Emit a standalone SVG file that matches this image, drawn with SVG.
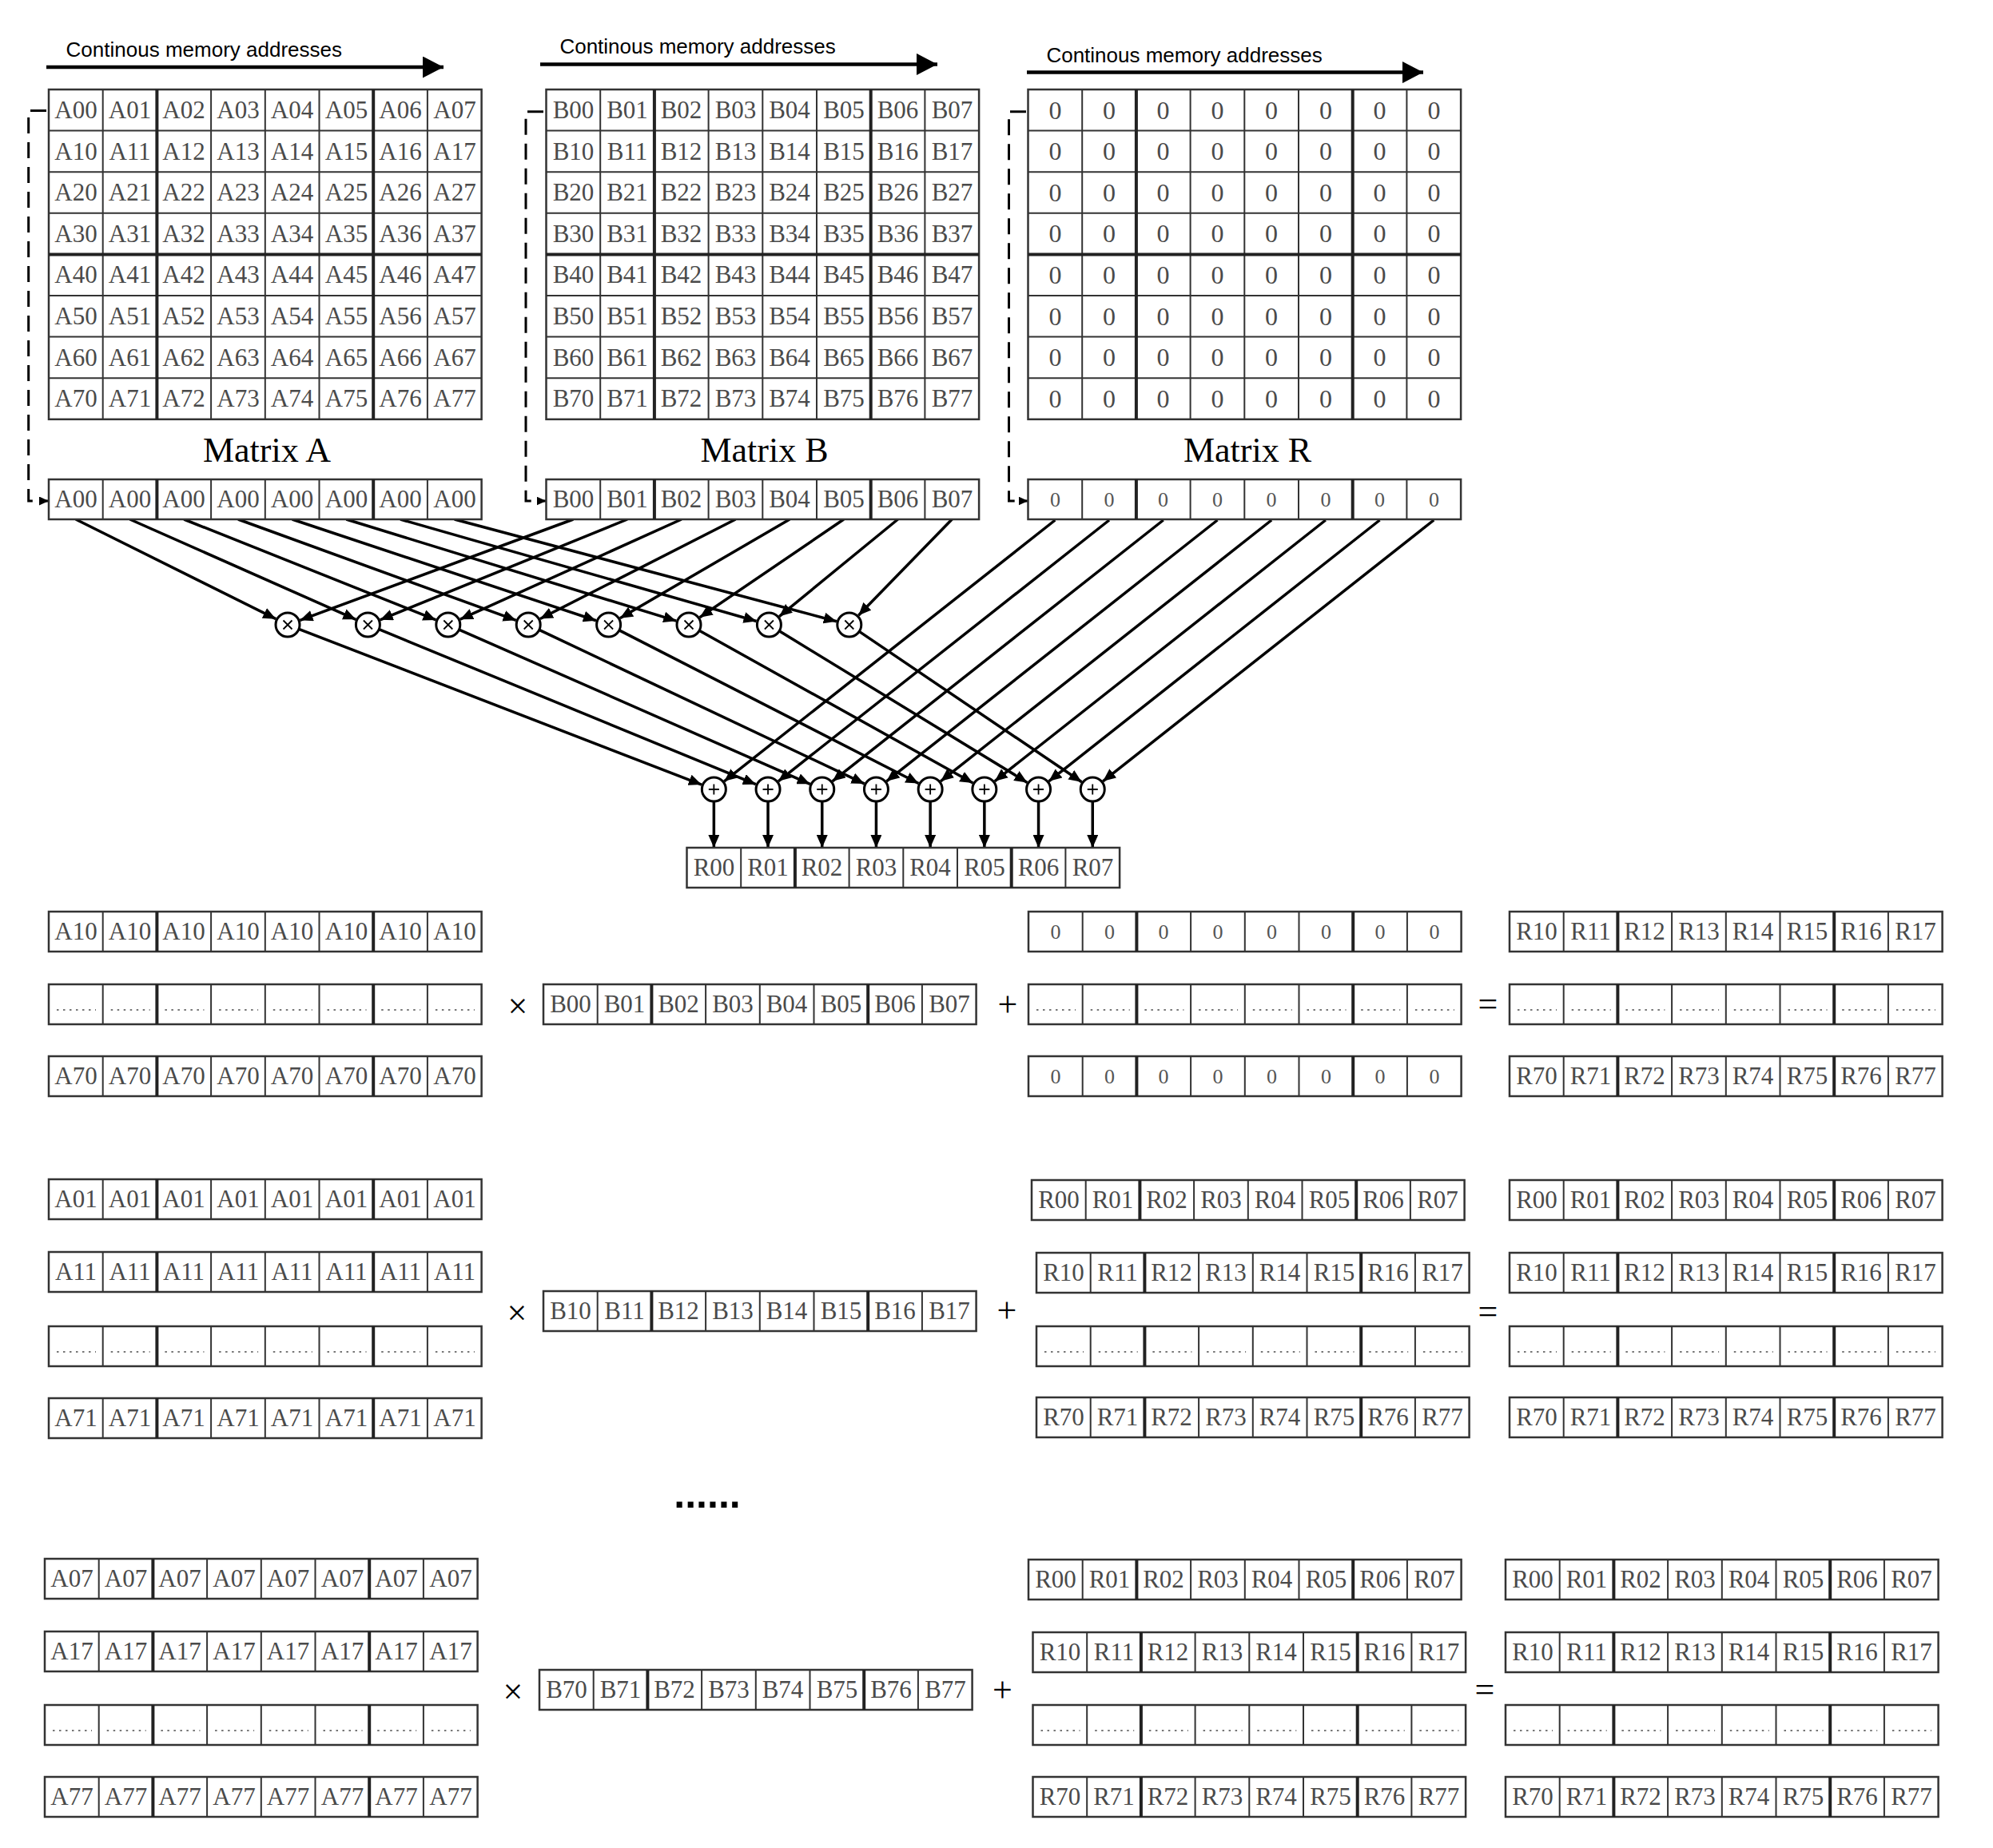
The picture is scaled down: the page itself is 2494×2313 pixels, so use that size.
<svg xmlns="http://www.w3.org/2000/svg" xmlns:xlink="http://www.w3.org/1999/xlink" width="2494" height="2313" viewBox="0 0 2494 2313">
<style>
.c{font-family:"Liberation Serif","Times New Roman",serif;font-size:31px;fill:#4a4a4a;text-anchor:middle}
.z{font-family:"Liberation Serif","Times New Roman",serif;font-size:32px;fill:#4a4a4a;text-anchor:middle}
.zs{font-family:"Liberation Serif","Times New Roman",serif;font-size:26px;fill:#555;text-anchor:middle}
.t{font-family:"Liberation Sans",Arial,sans-serif;font-size:26px;fill:#000}
.m{font-family:"Liberation Serif","Times New Roman",serif;font-size:44px;fill:#000;text-anchor:middle}
.op{font-family:"Liberation Serif","Times New Roman",serif;font-size:44px;fill:#000;text-anchor:middle}
.dd{font-family:"Liberation Sans",Arial,sans-serif;font-size:50px;font-weight:bold;fill:#000;text-anchor:middle}
.cn{fill:none;stroke:#000;stroke-width:3.5;marker-end:url(#ah)}
.ma{fill:none;stroke:#000;stroke-width:4.5;marker-end:url(#big)}
.dash{fill:none;stroke:#000;stroke-width:3;stroke-dasharray:20 11;marker-end:url(#sm)}
.op-c{fill:#fff;stroke:#000;stroke-width:3}
.sym{stroke:#000;stroke-width:1.8}
</style>
<defs>
<marker id="ah" viewBox="0 0 16 14" refX="16" refY="7" markerWidth="16" markerHeight="14" markerUnits="userSpaceOnUse" orient="auto"><path d="M0,0L16,7L0,14z" fill="#000"/></marker>
<marker id="big" viewBox="0 0 26 27" refX="26" refY="13.5" markerWidth="26" markerHeight="27" markerUnits="userSpaceOnUse" orient="auto"><path d="M0,0L26,13.5L0,27z" fill="#000"/></marker>
<marker id="sm" viewBox="0 0 12 11" refX="12" refY="5.5" markerWidth="12" markerHeight="11" markerUnits="userSpaceOnUse" orient="auto"><path d="M0,0L12,5.5L0,11z" fill="#000"/></marker>
<g id="row">
<rect width="541.6" height="50" fill="#fff" stroke="#333" stroke-width="2.5"/>
<path d="M67.7,0V50M203.1,0V50M270.8,0V50M338.5,0V50M473.9,0V50" stroke="#333" stroke-width="2"/>
<path d="M135.4,0V50M406.2,0V50" stroke="#222" stroke-width="4"/>
</g>
<g id="drow">
<use href="#row"/>
<path d="M10,32H59M77.7,32H126.7M145.4,32H194.4M213.1,32H262.1M280.8,32H329.8M348.5,32H397.5M416.2,32H465.2M483.9,32H532.9" stroke="#777" stroke-width="2" stroke-dasharray="2.5 5.5"/>
</g>
<g id="mat">
<rect width="541.6" height="412.8" fill="#fff" stroke="#333" stroke-width="2.5"/>
<path d="M67.7,0V412.8M203.1,0V412.8M270.8,0V412.8M338.5,0V412.8M473.9,0V412.8M0,51.6H541.6M0,103.2H541.6M0,154.8H541.6M0,258H541.6M0,309.6H541.6M0,361.2H541.6" stroke="#333" stroke-width="2"/>
<path d="M135.4,0V412.8M406.2,0V412.8M0,206.4H541.6" stroke="#222" stroke-width="4"/>
</g>
</defs>
<rect width="2494" height="2313" fill="#fff"/>

<!-- memory address arrows -->
<g id="memA"><text class="t" x="82.6" y="71.4">Continous memory addresses</text><path class="ma" d="M58,84H555"/></g>
<g id="memB"><text class="t" x="700.4" y="67">Continous memory addresses</text><path class="ma" d="M676,80.4H1173"/></g>
<g id="memR"><text class="t" x="1309.4" y="78">Continous memory addresses</text><path class="ma" d="M1285,90.6H1781"/></g>

<!-- connectors -->
<g id="connectors">
<path class="dash" d="M58,138.4H35.7V627H61"/>
<path class="dash" d="M680,139.7H658V627H683.5"/>
<path class="dash" d="M1284,139.7H1262.5V627H1286.5"/>
<path class="cn" d="M94.85,650L345.23,774.65"/>
<path class="cn" d="M162.55,650L445.32,775.31"/>
<path class="cn" d="M230.25,650L545.48,775.88"/>
<path class="cn" d="M297.95,650L645.69,776.36"/>
<path class="cn" d="M365.65,650L745.95,776.78"/>
<path class="cn" d="M433.35,650L846.23,777.14"/>
<path class="cn" d="M501.05,650L946.54,777.46"/>
<path class="cn" d="M568.75,650L1046.86,777.74"/>
<path class="cn" d="M717.35,650L375.48,776.28"/>
<path class="cn" d="M785.05,650L475.69,775.79"/>
<path class="cn" d="M852.75,650L575.83,775.2"/>
<path class="cn" d="M920.45,650L675.9,774.51"/>
<path class="cn" d="M988.15,650L775.86,773.69"/>
<path class="cn" d="M1055.85,650L875.64,772.71"/>
<path class="cn" d="M1123.55,650L975.16,771.54"/>
<path class="cn" d="M1191.25,650L1074.31,770.17"/>
<path class="cn" d="M374,787.4L877.96,982.06"/>
<path class="cn" d="M474.27,787.71L945.79,981.72"/>
<path class="cn" d="M574.53,788.04L1013.65,981.35"/>
<path class="cn" d="M674.76,788.42L1081.54,980.94"/>
<path class="cn" d="M774.95,788.83L1149.46,980.48"/>
<path class="cn" d="M875.1,789.3L1217.44,979.97"/>
<path class="cn" d="M975.2,789.82L1285.47,979.4"/>
<path class="cn" d="M1075.22,790.41L1353.58,978.75"/>
<path class="cn" d="M1320.35,651L906.3,977.78"/>
<path class="cn" d="M1388.05,651L974,977.78"/>
<path class="cn" d="M1455.75,651L1041.7,977.78"/>
<path class="cn" d="M1523.45,651L1109.4,977.78"/>
<path class="cn" d="M1591.15,651L1177.1,977.78"/>
<path class="cn" d="M1658.85,651L1244.8,977.78"/>
<path class="cn" d="M1726.55,651L1312.5,977.78"/>
<path class="cn" d="M1794.25,651L1380.2,977.78"/>
<path class="cn" d="M893.35,1003V1061"/>
<path class="cn" d="M961.05,1003V1061"/>
<path class="cn" d="M1028.75,1003V1061"/>
<path class="cn" d="M1096.45,1003V1061"/>
<path class="cn" d="M1164.15,1003V1061"/>
<path class="cn" d="M1231.85,1003V1061"/>
<path class="cn" d="M1299.55,1003V1061"/>
<path class="cn" d="M1367.25,1003V1061"/>
</g>

<!-- Matrix A -->
<g id="matrixA" transform="translate(61,112)">
<use href="#mat"/>
<text class="c" y="36"><tspan x="34">A00</tspan><tspan x="101.5">A01</tspan><tspan x="169">A02</tspan><tspan x="237">A03</tspan><tspan x="304.5">A04</tspan><tspan x="372.5">A05</tspan><tspan x="440">A06</tspan><tspan x="508">A07</tspan></text>
<text class="c" y="87.6"><tspan x="34">A10</tspan><tspan x="101.5">A11</tspan><tspan x="169">A12</tspan><tspan x="237">A13</tspan><tspan x="304.5">A14</tspan><tspan x="372.5">A15</tspan><tspan x="440">A16</tspan><tspan x="508">A17</tspan></text>
<text class="c" y="139.2"><tspan x="34">A20</tspan><tspan x="101.5">A21</tspan><tspan x="169">A22</tspan><tspan x="237">A23</tspan><tspan x="304.5">A24</tspan><tspan x="372.5">A25</tspan><tspan x="440">A26</tspan><tspan x="508">A27</tspan></text>
<text class="c" y="190.8"><tspan x="34">A30</tspan><tspan x="101.5">A31</tspan><tspan x="169">A32</tspan><tspan x="237">A33</tspan><tspan x="304.5">A34</tspan><tspan x="372.5">A35</tspan><tspan x="440">A36</tspan><tspan x="508">A37</tspan></text>
<text class="c" y="242.4"><tspan x="34">A40</tspan><tspan x="101.5">A41</tspan><tspan x="169">A42</tspan><tspan x="237">A43</tspan><tspan x="304.5">A44</tspan><tspan x="372.5">A45</tspan><tspan x="440">A46</tspan><tspan x="508">A47</tspan></text>
<text class="c" y="294"><tspan x="34">A50</tspan><tspan x="101.5">A51</tspan><tspan x="169">A52</tspan><tspan x="237">A53</tspan><tspan x="304.5">A54</tspan><tspan x="372.5">A55</tspan><tspan x="440">A56</tspan><tspan x="508">A57</tspan></text>
<text class="c" y="345.6"><tspan x="34">A60</tspan><tspan x="101.5">A61</tspan><tspan x="169">A62</tspan><tspan x="237">A63</tspan><tspan x="304.5">A64</tspan><tspan x="372.5">A65</tspan><tspan x="440">A66</tspan><tspan x="508">A67</tspan></text>
<text class="c" y="397.2"><tspan x="34">A70</tspan><tspan x="101.5">A71</tspan><tspan x="169">A72</tspan><tspan x="237">A73</tspan><tspan x="304.5">A74</tspan><tspan x="372.5">A75</tspan><tspan x="440">A76</tspan><tspan x="508">A77</tspan></text>
</g>
<text id="labelA" class="m" x="334" y="578">Matrix A</text>

<!-- Matrix B -->
<g id="matrixB" transform="translate(683.5,112)">
<use href="#mat"/>
<text class="c" y="36"><tspan x="34">B00</tspan><tspan x="101.5">B01</tspan><tspan x="169">B02</tspan><tspan x="237">B03</tspan><tspan x="304.5">B04</tspan><tspan x="372.5">B05</tspan><tspan x="440">B06</tspan><tspan x="508">B07</tspan></text>
<text class="c" y="87.6"><tspan x="34">B10</tspan><tspan x="101.5">B11</tspan><tspan x="169">B12</tspan><tspan x="237">B13</tspan><tspan x="304.5">B14</tspan><tspan x="372.5">B15</tspan><tspan x="440">B16</tspan><tspan x="508">B17</tspan></text>
<text class="c" y="139.2"><tspan x="34">B20</tspan><tspan x="101.5">B21</tspan><tspan x="169">B22</tspan><tspan x="237">B23</tspan><tspan x="304.5">B24</tspan><tspan x="372.5">B25</tspan><tspan x="440">B26</tspan><tspan x="508">B27</tspan></text>
<text class="c" y="190.8"><tspan x="34">B30</tspan><tspan x="101.5">B31</tspan><tspan x="169">B32</tspan><tspan x="237">B33</tspan><tspan x="304.5">B34</tspan><tspan x="372.5">B35</tspan><tspan x="440">B36</tspan><tspan x="508">B37</tspan></text>
<text class="c" y="242.4"><tspan x="34">B40</tspan><tspan x="101.5">B41</tspan><tspan x="169">B42</tspan><tspan x="237">B43</tspan><tspan x="304.5">B44</tspan><tspan x="372.5">B45</tspan><tspan x="440">B46</tspan><tspan x="508">B47</tspan></text>
<text class="c" y="294"><tspan x="34">B50</tspan><tspan x="101.5">B51</tspan><tspan x="169">B52</tspan><tspan x="237">B53</tspan><tspan x="304.5">B54</tspan><tspan x="372.5">B55</tspan><tspan x="440">B56</tspan><tspan x="508">B57</tspan></text>
<text class="c" y="345.6"><tspan x="34">B60</tspan><tspan x="101.5">B61</tspan><tspan x="169">B62</tspan><tspan x="237">B63</tspan><tspan x="304.5">B64</tspan><tspan x="372.5">B65</tspan><tspan x="440">B66</tspan><tspan x="508">B67</tspan></text>
<text class="c" y="397.2"><tspan x="34">B70</tspan><tspan x="101.5">B71</tspan><tspan x="169">B72</tspan><tspan x="237">B73</tspan><tspan x="304.5">B74</tspan><tspan x="372.5">B75</tspan><tspan x="440">B76</tspan><tspan x="508">B77</tspan></text>
</g>
<text id="labelB" class="m" x="956.5" y="578">Matrix B</text>

<!-- Matrix R -->
<g id="matrixR" transform="translate(1286.5,112)">
<use href="#mat"/>
<text class="z" y="36.6"><tspan x="34">0</tspan><tspan x="101.5">0</tspan><tspan x="169">0</tspan><tspan x="237">0</tspan><tspan x="304.5">0</tspan><tspan x="372.5">0</tspan><tspan x="440">0</tspan><tspan x="508">0</tspan></text>
<text class="z" y="88.2"><tspan x="34">0</tspan><tspan x="101.5">0</tspan><tspan x="169">0</tspan><tspan x="237">0</tspan><tspan x="304.5">0</tspan><tspan x="372.5">0</tspan><tspan x="440">0</tspan><tspan x="508">0</tspan></text>
<text class="z" y="139.8"><tspan x="34">0</tspan><tspan x="101.5">0</tspan><tspan x="169">0</tspan><tspan x="237">0</tspan><tspan x="304.5">0</tspan><tspan x="372.5">0</tspan><tspan x="440">0</tspan><tspan x="508">0</tspan></text>
<text class="z" y="191.4"><tspan x="34">0</tspan><tspan x="101.5">0</tspan><tspan x="169">0</tspan><tspan x="237">0</tspan><tspan x="304.5">0</tspan><tspan x="372.5">0</tspan><tspan x="440">0</tspan><tspan x="508">0</tspan></text>
<text class="z" y="243"><tspan x="34">0</tspan><tspan x="101.5">0</tspan><tspan x="169">0</tspan><tspan x="237">0</tspan><tspan x="304.5">0</tspan><tspan x="372.5">0</tspan><tspan x="440">0</tspan><tspan x="508">0</tspan></text>
<text class="z" y="294.6"><tspan x="34">0</tspan><tspan x="101.5">0</tspan><tspan x="169">0</tspan><tspan x="237">0</tspan><tspan x="304.5">0</tspan><tspan x="372.5">0</tspan><tspan x="440">0</tspan><tspan x="508">0</tspan></text>
<text class="z" y="346.2"><tspan x="34">0</tspan><tspan x="101.5">0</tspan><tspan x="169">0</tspan><tspan x="237">0</tspan><tspan x="304.5">0</tspan><tspan x="372.5">0</tspan><tspan x="440">0</tspan><tspan x="508">0</tspan></text>
<text class="z" y="397.8"><tspan x="34">0</tspan><tspan x="101.5">0</tspan><tspan x="169">0</tspan><tspan x="237">0</tspan><tspan x="304.5">0</tspan><tspan x="372.5">0</tspan><tspan x="440">0</tspan><tspan x="508">0</tspan></text>
</g>
<text id="labelR" class="m" x="1561" y="578">Matrix R</text>

<!-- loaded rows -->
<g id="rowA00" transform="translate(61,600)"><use href="#row"/><text class="c" y="35"><tspan x="34">A00</tspan><tspan x="101.5">A00</tspan><tspan x="169">A00</tspan><tspan x="237">A00</tspan><tspan x="304.5">A00</tspan><tspan x="372.5">A00</tspan><tspan x="440">A00</tspan><tspan x="508">A00</tspan></text></g>
<g id="rowB0" transform="translate(683.5,600)"><use href="#row"/><text class="c" y="35"><tspan x="34">B00</tspan><tspan x="101.5">B01</tspan><tspan x="169">B02</tspan><tspan x="237">B03</tspan><tspan x="304.5">B04</tspan><tspan x="372.5">B05</tspan><tspan x="440">B06</tspan><tspan x="508">B07</tspan></text></g>
<g id="rowR0" transform="translate(1286.5,600)"><use href="#row"/><text class="zs" y="34"><tspan x="34">0</tspan><tspan x="101.5">0</tspan><tspan x="169">0</tspan><tspan x="237">0</tspan><tspan x="304.5">0</tspan><tspan x="372.5">0</tspan><tspan x="440">0</tspan><tspan x="508">0</tspan></text></g>

<!-- multipliers -->
<g id="mul0"><circle class="op-c" cx="360" cy="782" r="15"/><path class="sym" d="M354.5,776.5l11,11m0,-11l-11,11"/></g>
<g id="mul1"><circle class="op-c" cx="460.4" cy="782" r="15"/><path class="sym" d="M454.9,776.5l11,11m0,-11l-11,11"/></g>
<g id="mul2"><circle class="op-c" cx="560.8" cy="782" r="15"/><path class="sym" d="M555.3,776.5l11,11m0,-11l-11,11"/></g>
<g id="mul3"><circle class="op-c" cx="661.2" cy="782" r="15"/><path class="sym" d="M655.7,776.5l11,11m0,-11l-11,11"/></g>
<g id="mul4"><circle class="op-c" cx="761.6" cy="782" r="15"/><path class="sym" d="M756.1,776.5l11,11m0,-11l-11,11"/></g>
<g id="mul5"><circle class="op-c" cx="862" cy="782" r="15"/><path class="sym" d="M856.5,776.5l11,11m0,-11l-11,11"/></g>
<g id="mul6"><circle class="op-c" cx="962.4" cy="782" r="15"/><path class="sym" d="M956.9,776.5l11,11m0,-11l-11,11"/></g>
<g id="mul7"><circle class="op-c" cx="1062.8" cy="782" r="15"/><path class="sym" d="M1057.3,776.5l11,11m0,-11l-11,11"/></g>

<!-- adders -->
<g id="add0"><circle class="op-c" cx="893.35" cy="988" r="15"/><path class="sym" d="M886.85,988h13m-6.5,-6.5v13"/></g>
<g id="add1"><circle class="op-c" cx="961.05" cy="988" r="15"/><path class="sym" d="M954.55,988h13m-6.5,-6.5v13"/></g>
<g id="add2"><circle class="op-c" cx="1028.75" cy="988" r="15"/><path class="sym" d="M1022.25,988h13m-6.5,-6.5v13"/></g>
<g id="add3"><circle class="op-c" cx="1096.45" cy="988" r="15"/><path class="sym" d="M1089.95,988h13m-6.5,-6.5v13"/></g>
<g id="add4"><circle class="op-c" cx="1164.15" cy="988" r="15"/><path class="sym" d="M1157.65,988h13m-6.5,-6.5v13"/></g>
<g id="add5"><circle class="op-c" cx="1231.85" cy="988" r="15"/><path class="sym" d="M1225.35,988h13m-6.5,-6.5v13"/></g>
<g id="add6"><circle class="op-c" cx="1299.55" cy="988" r="15"/><path class="sym" d="M1293.05,988h13m-6.5,-6.5v13"/></g>
<g id="add7"><circle class="op-c" cx="1367.25" cy="988" r="15"/><path class="sym" d="M1360.75,988h13m-6.5,-6.5v13"/></g>

<g id="rowRout" transform="translate(859.5,1061)"><use href="#row"/><text class="c" y="35"><tspan x="34">R00</tspan><tspan x="101.5">R01</tspan><tspan x="169">R02</tspan><tspan x="237">R03</tspan><tspan x="304.5">R04</tspan><tspan x="372.5">R05</tspan><tspan x="440">R06</tspan><tspan x="508">R07</tspan></text></g>

<!-- Group 1 -->
<g id="g1A10" transform="translate(61,1141)"><use href="#row"/><text class="c" y="35"><tspan x="34">A10</tspan><tspan x="101.5">A10</tspan><tspan x="169">A10</tspan><tspan x="237">A10</tspan><tspan x="304.5">A10</tspan><tspan x="372.5">A10</tspan><tspan x="440">A10</tspan><tspan x="508">A10</tspan></text></g>
<g id="g1Adots" transform="translate(61,1232)"><use href="#drow"/></g>
<g id="g1A70" transform="translate(61,1322)"><use href="#row"/><text class="c" y="35"><tspan x="34">A70</tspan><tspan x="101.5">A70</tspan><tspan x="169">A70</tspan><tspan x="237">A70</tspan><tspan x="304.5">A70</tspan><tspan x="372.5">A70</tspan><tspan x="440">A70</tspan><tspan x="508">A70</tspan></text></g>
<text id="g1mul" class="op" x="648" y="1274">×</text>
<g id="g1B" transform="translate(680,1232)"><use href="#row"/><text class="c" y="35"><tspan x="34">B00</tspan><tspan x="101.5">B01</tspan><tspan x="169">B02</tspan><tspan x="237">B03</tspan><tspan x="304.5">B04</tspan><tspan x="372.5">B05</tspan><tspan x="440">B06</tspan><tspan x="508">B07</tspan></text></g>
<text id="g1add" class="op" x="1261" y="1272">+</text>
<g id="g1Z0" transform="translate(1287,1141)"><use href="#row"/><text class="zs" y="34"><tspan x="34">0</tspan><tspan x="101.5">0</tspan><tspan x="169">0</tspan><tspan x="237">0</tspan><tspan x="304.5">0</tspan><tspan x="372.5">0</tspan><tspan x="440">0</tspan><tspan x="508">0</tspan></text></g>
<g id="g1Zdots" transform="translate(1287,1232)"><use href="#drow"/></g>
<g id="g1Z7" transform="translate(1287,1322)"><use href="#row"/><text class="zs" y="34"><tspan x="34">0</tspan><tspan x="101.5">0</tspan><tspan x="169">0</tspan><tspan x="237">0</tspan><tspan x="304.5">0</tspan><tspan x="372.5">0</tspan><tspan x="440">0</tspan><tspan x="508">0</tspan></text></g>
<text id="g1eq" class="op" x="1862" y="1271">=</text>
<g id="g1R1" transform="translate(1889,1141)"><use href="#row"/><text class="c" y="35"><tspan x="34">R10</tspan><tspan x="101.5">R11</tspan><tspan x="169">R12</tspan><tspan x="237">R13</tspan><tspan x="304.5">R14</tspan><tspan x="372.5">R15</tspan><tspan x="440">R16</tspan><tspan x="508">R17</tspan></text></g>
<g id="g1Rdots" transform="translate(1889,1232)"><use href="#drow"/></g>
<g id="g1R7" transform="translate(1889,1322)"><use href="#row"/><text class="c" y="35"><tspan x="34">R70</tspan><tspan x="101.5">R71</tspan><tspan x="169">R72</tspan><tspan x="237">R73</tspan><tspan x="304.5">R74</tspan><tspan x="372.5">R75</tspan><tspan x="440">R76</tspan><tspan x="508">R77</tspan></text></g>

<!-- Group 2 -->
<g id="g2A01" transform="translate(61,1476)"><use href="#row"/><text class="c" y="35"><tspan x="34">A01</tspan><tspan x="101.5">A01</tspan><tspan x="169">A01</tspan><tspan x="237">A01</tspan><tspan x="304.5">A01</tspan><tspan x="372.5">A01</tspan><tspan x="440">A01</tspan><tspan x="508">A01</tspan></text></g>
<g id="g2A11" transform="translate(61,1567)"><use href="#row"/><text class="c" y="35"><tspan x="34">A11</tspan><tspan x="101.5">A11</tspan><tspan x="169">A11</tspan><tspan x="237">A11</tspan><tspan x="304.5">A11</tspan><tspan x="372.5">A11</tspan><tspan x="440">A11</tspan><tspan x="508">A11</tspan></text></g>
<g id="g2Adots" transform="translate(61,1660)"><use href="#drow"/></g>
<g id="g2A71" transform="translate(61,1750)"><use href="#row"/><text class="c" y="35"><tspan x="34">A71</tspan><tspan x="101.5">A71</tspan><tspan x="169">A71</tspan><tspan x="237">A71</tspan><tspan x="304.5">A71</tspan><tspan x="372.5">A71</tspan><tspan x="440">A71</tspan><tspan x="508">A71</tspan></text></g>
<text id="g2mul" class="op" x="647" y="1658">×</text>
<g id="g2B" transform="translate(680,1616)"><use href="#row"/><text class="c" y="35"><tspan x="34">B10</tspan><tspan x="101.5">B11</tspan><tspan x="169">B12</tspan><tspan x="237">B13</tspan><tspan x="304.5">B14</tspan><tspan x="372.5">B15</tspan><tspan x="440">B16</tspan><tspan x="508">B17</tspan></text></g>
<text id="g2add" class="op" x="1260" y="1655">+</text>
<g id="g2M0" transform="translate(1291,1477)"><use href="#row"/><text class="c" y="35"><tspan x="34">R00</tspan><tspan x="101.5">R01</tspan><tspan x="169">R02</tspan><tspan x="237">R03</tspan><tspan x="304.5">R04</tspan><tspan x="372.5">R05</tspan><tspan x="440">R06</tspan><tspan x="508">R07</tspan></text></g>
<g id="g2M1" transform="translate(1297,1568)"><use href="#row"/><text class="c" y="35"><tspan x="34">R10</tspan><tspan x="101.5">R11</tspan><tspan x="169">R12</tspan><tspan x="237">R13</tspan><tspan x="304.5">R14</tspan><tspan x="372.5">R15</tspan><tspan x="440">R16</tspan><tspan x="508">R17</tspan></text></g>
<g id="g2Mdots" transform="translate(1297,1660)"><use href="#drow"/></g>
<g id="g2M7" transform="translate(1297,1749)"><use href="#row"/><text class="c" y="35"><tspan x="34">R70</tspan><tspan x="101.5">R71</tspan><tspan x="169">R72</tspan><tspan x="237">R73</tspan><tspan x="304.5">R74</tspan><tspan x="372.5">R75</tspan><tspan x="440">R76</tspan><tspan x="508">R77</tspan></text></g>
<text id="g2eq" class="op" x="1862" y="1656">=</text>
<g id="g2R0" transform="translate(1889,1477)"><use href="#row"/><text class="c" y="35"><tspan x="34">R00</tspan><tspan x="101.5">R01</tspan><tspan x="169">R02</tspan><tspan x="237">R03</tspan><tspan x="304.5">R04</tspan><tspan x="372.5">R05</tspan><tspan x="440">R06</tspan><tspan x="508">R07</tspan></text></g>
<g id="g2R1" transform="translate(1889,1568)"><use href="#row"/><text class="c" y="35"><tspan x="34">R10</tspan><tspan x="101.5">R11</tspan><tspan x="169">R12</tspan><tspan x="237">R13</tspan><tspan x="304.5">R14</tspan><tspan x="372.5">R15</tspan><tspan x="440">R16</tspan><tspan x="508">R17</tspan></text></g>
<g id="g2Rdots" transform="translate(1889,1660)"><use href="#drow"/></g>
<g id="g2R7" transform="translate(1889,1749)"><use href="#row"/><text class="c" y="35"><tspan x="34">R70</tspan><tspan x="101.5">R71</tspan><tspan x="169">R72</tspan><tspan x="237">R73</tspan><tspan x="304.5">R74</tspan><tspan x="372.5">R75</tspan><tspan x="440">R76</tspan><tspan x="508">R77</tspan></text></g>

<text id="ellipsis" class="dd" x="885" y="1887">......</text>

<!-- Group 3 -->
<g id="g3A07" transform="translate(56,1951)"><use href="#row"/><text class="c" y="35"><tspan x="34">A07</tspan><tspan x="101.5">A07</tspan><tspan x="169">A07</tspan><tspan x="237">A07</tspan><tspan x="304.5">A07</tspan><tspan x="372.5">A07</tspan><tspan x="440">A07</tspan><tspan x="508">A07</tspan></text></g>
<g id="g3A17" transform="translate(56,2042)"><use href="#row"/><text class="c" y="35"><tspan x="34">A17</tspan><tspan x="101.5">A17</tspan><tspan x="169">A17</tspan><tspan x="237">A17</tspan><tspan x="304.5">A17</tspan><tspan x="372.5">A17</tspan><tspan x="440">A17</tspan><tspan x="508">A17</tspan></text></g>
<g id="g3Adots" transform="translate(56,2134)"><use href="#drow"/></g>
<g id="g3A77" transform="translate(56,2224)"><use href="#row"/><text class="c" y="35"><tspan x="34">A77</tspan><tspan x="101.5">A77</tspan><tspan x="169">A77</tspan><tspan x="237">A77</tspan><tspan x="304.5">A77</tspan><tspan x="372.5">A77</tspan><tspan x="440">A77</tspan><tspan x="508">A77</tspan></text></g>
<text id="g3mul" class="op" x="642" y="2132">×</text>
<g id="g3B" transform="translate(675,2090)"><use href="#row"/><text class="c" y="35"><tspan x="34">B70</tspan><tspan x="101.5">B71</tspan><tspan x="169">B72</tspan><tspan x="237">B73</tspan><tspan x="304.5">B74</tspan><tspan x="372.5">B75</tspan><tspan x="440">B76</tspan><tspan x="508">B77</tspan></text></g>
<text id="g3add" class="op" x="1254.5" y="2130">+</text>
<g id="g3M0" transform="translate(1287,1952)"><use href="#row"/><text class="c" y="35"><tspan x="34">R00</tspan><tspan x="101.5">R01</tspan><tspan x="169">R02</tspan><tspan x="237">R03</tspan><tspan x="304.5">R04</tspan><tspan x="372.5">R05</tspan><tspan x="440">R06</tspan><tspan x="508">R07</tspan></text></g>
<g id="g3M1" transform="translate(1292.5,2043)"><use href="#row"/><text class="c" y="35"><tspan x="34">R10</tspan><tspan x="101.5">R11</tspan><tspan x="169">R12</tspan><tspan x="237">R13</tspan><tspan x="304.5">R14</tspan><tspan x="372.5">R15</tspan><tspan x="440">R16</tspan><tspan x="508">R17</tspan></text></g>
<g id="g3Mdots" transform="translate(1292.5,2134)"><use href="#drow"/></g>
<g id="g3M7" transform="translate(1292.5,2224)"><use href="#row"/><text class="c" y="35"><tspan x="34">R70</tspan><tspan x="101.5">R71</tspan><tspan x="169">R72</tspan><tspan x="237">R73</tspan><tspan x="304.5">R74</tspan><tspan x="372.5">R75</tspan><tspan x="440">R76</tspan><tspan x="508">R77</tspan></text></g>
<text id="g3eq" class="op" x="1858" y="2129">=</text>
<g id="g3R0" transform="translate(1884,1952)"><use href="#row"/><text class="c" y="35"><tspan x="34">R00</tspan><tspan x="101.5">R01</tspan><tspan x="169">R02</tspan><tspan x="237">R03</tspan><tspan x="304.5">R04</tspan><tspan x="372.5">R05</tspan><tspan x="440">R06</tspan><tspan x="508">R07</tspan></text></g>
<g id="g3R1" transform="translate(1884,2043)"><use href="#row"/><text class="c" y="35"><tspan x="34">R10</tspan><tspan x="101.5">R11</tspan><tspan x="169">R12</tspan><tspan x="237">R13</tspan><tspan x="304.5">R14</tspan><tspan x="372.5">R15</tspan><tspan x="440">R16</tspan><tspan x="508">R17</tspan></text></g>
<g id="g3Rdots" transform="translate(1884,2134)"><use href="#drow"/></g>
<g id="g3R7" transform="translate(1884,2224)"><use href="#row"/><text class="c" y="35"><tspan x="34">R70</tspan><tspan x="101.5">R71</tspan><tspan x="169">R72</tspan><tspan x="237">R73</tspan><tspan x="304.5">R74</tspan><tspan x="372.5">R75</tspan><tspan x="440">R76</tspan><tspan x="508">R77</tspan></text></g>
</svg>
